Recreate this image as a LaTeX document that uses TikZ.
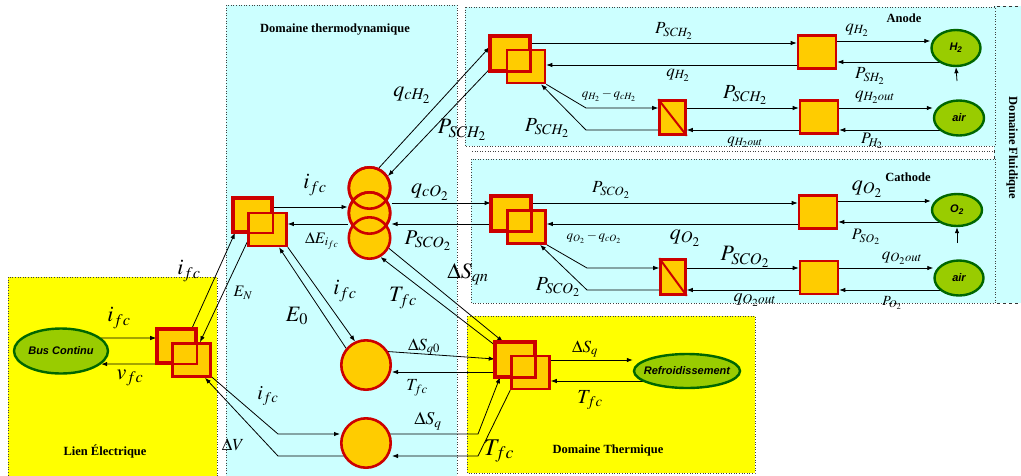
\documentclass[tikz,border=0pt]{standalone}
\usepackage{mathptmx}
\usepackage{fontspec}
\setmainfont{Liberation Serif}
\newfontfamily\elfont{Liberation Sans}
\usetikzlibrary{arrows.meta,shapes.geometric}
\definecolor{sqfill}{RGB}{255,204,0}
\definecolor{sqred}{RGB}{204,0,0}
\definecolor{elfill}{RGB}{153,204,0}
\definecolor{eldraw}{RGB}{0,102,0}
\definecolor{cyanbg}{RGB}{204,255,255}
\definecolor{yelbg}{RGB}{255,255,0}
\pgfdeclarelayer{regions}
\pgfdeclarelayer{conn}
\pgfsetlayers{regions,conn,main}
\tikzset{
 sq/.style={draw=sqred, fill=sqfill, line width=2.6pt, minimum width=38pt, minimum height=33pt, inner sep=0pt},
 sqline/.style={draw=sqred, line width=2.6pt},
 stk/.style={circle, draw=sqred, fill=sqfill, line width=2.6pt, minimum size=41.4pt, inner sep=0pt},
 el/.style={ellipse, draw=eldraw, fill=elfill, line width=2.4pt, inner sep=0pt},
 eltxt/.style={font=\elfont\bfseries\itshape\fontsize{11}{11}\selectfont, inner sep=0pt},
 arr/.style={-{Latex[length=6pt,width=4.5pt]}, line width=0.8pt},
 ln/.style={line width=0.8pt},
 reg/.style={dotted, draw=black!75, line width=0.6pt},
 ttl/.style={font=\bfseries\fontsize{12.5}{12.5}\selectfont, inner sep=0pt},
 lb/.style={inner sep=0pt, font=\fontsize{#1}{#1}\selectfont},
}
\begin{document}
\begin{tikzpicture}[x=1pt,y=-1pt]
\useasboundingbox (0,0) rectangle (1021,475);
% ---------- regions ----------
\begin{pgfonlayer}{regions}
\draw[reg, fill=yelbg] (8,277) rectangle (217,480);
\draw[reg, fill=cyanbg] (226,5) rectangle (457,480);
\draw[dashed, draw=black!80, line width=0.7pt, fill=cyanbg] (994,6) rectangle (1030,303);
\draw[reg, fill=cyanbg] (465,7) rectangle (995,146);
\draw[reg] (472,151) -- (994,151);
\draw[reg, fill=cyanbg] (471,159) rectangle (995,303);
\draw[reg, fill=yelbg] (467,316) rectangle (755,473);
\end{pgfonlayer}
% ---------- Lien electrique ----------
\node[el, minimum width=94pt, minimum height=45pt] (bus) at (61,351) {};
\node[eltxt] (busT) at (61,351) {Bus Continu};
\node[sq] (lienA) at (176.5,346) {};
\node[sq] (lienB) at (191.5,360) {};
\draw[sqline] (lienA.north west) rectangle (lienA.south east);
% ---------- Thermodynamique ----------
\node[sq] (thA) at (252.5,215) {};
\node[sq] (thB) at (267.5,229.5) {};
\draw[sqline] (thA.north west) rectangle (thA.south east);
\node[stk] (st1) at (369.5,188) {};
\node[stk] (st2) at (369.5,213) {};
\node[stk] (st3) at (369.5,238) {};
\draw[sqline] (st1.center) circle[radius=20.7pt];
\draw[sqline] (st2.center) circle[radius=20.7pt];
\node[stk, minimum size=49.4pt] (e0) at (366,365) {};
\node[stk, minimum size=49.4pt] (e1) at (366,443) {};
% ---------- Thermique ----------
\node[sq] (thmA) at (515,359.5) {};
\node[sq] (thmB) at (530.5,372.5) {};
\draw[sqline] (thmA.north west) rectangle (thmA.south east);
\node[el, minimum width=106pt, minimum height=34pt] (ref) at (687,371) {};
\node[eltxt] (refT) at (687,371) {Refroidissement};
% ---------- Anode ----------
\node[sq] (anA) at (510,53.5) {};
\node[sq] (anB) at (526,66.5) {};
\draw[sqline] (anA.north west) rectangle (anA.south east);
\node[sq] (a1) at (817,52) {};
\node[sq] (a2) at (819,117) {};
\node[sq, minimum width=26pt, minimum height=34pt] (dA) at (672.5,117.5) {};
\draw[sqline, line width=2pt] (dA.north west) -- (dA.south east);
\node[el, eltxt, minimum width=49pt, minimum height=36pt] (h2) at (956,48) {H\textsubscript{2}};
\node[el, eltxt, minimum width=50pt, minimum height=35pt] (airA) at (959,118) {air};
% ---------- Cathode ----------
\node[sq] (caA) at (511,213.5) {};
\node[sq] (caB) at (526.5,227) {};
\draw[sqline] (caA.north west) rectangle (caA.south east);
\node[sq] (cs1) at (818,212) {};
\node[sq] (cs2) at (819,277.5) {};
\node[sq, minimum width=25pt, minimum height=35pt] (dC) at (673,277) {};
\draw[sqline, line width=2pt] (dC.north west) -- (dC.south east);
\node[el, eltxt, minimum width=50pt, minimum height=32pt] (o2) at (957,210) {O\textsubscript{2}};
\node[el, eltxt, minimum width=49pt, minimum height=35pt] (airC) at (959,278) {air};
% ---------- bend points ----------
\coordinate (bL1) at (278,434);
\coordinate (bL2) at (278,456);
\coordinate (bR1) at (478,434);
\coordinate (bR2) at (478,456);
\coordinate (kA1) at (586,108);
\coordinate (kA2) at (586,130);
\coordinate (kC1) at (587,268);
\coordinate (kC2) at (587,290);
\coordinate (upA) at (957,81);
\coordinate (upC) at (957,243);
% ---------- connectors ----------
\begin{pgfonlayer}{conn}
\draw[arr] (bus.18) -- (lienA.west |- 0,338);
\draw[arr] (lienA.west |- 0,364) -- (bus.-18);
\draw[arr] (lienA.north -| 192,0) -- (thA.south -| 235,0);
\draw[arr] (thB.west |- 0,242) -- (lienB.north -| 200,0);
\draw[arr] (thA.east |- 0,207) -- (st2.west |- 0,207);
\draw[arr] (st2.west |- 0,224) -- (thB.east |- 0,224);
\draw[arr] (st2.east |- 0,203) -- (caA.west |- 0,203);
\draw[arr] (caA.west |- 0,224) -- (st2.east |- 0,224);
\draw[arr] (st1.65) -- (anA.west |- 0,47);
\draw[arr] (anA.west |- 0,69) -- (st1.33);
\draw[arr] (st3.-28) -- (thmA.north -| 503,0);
\draw[arr] (thmA.west |- 0,345) -- (st3.-60);
\draw[arr] (thB.south east) -- (e0.115);
\draw[arr] (e0.140) -- (thB.south -| 279,0);
\draw[arr] (e0.center |- 0,350) -- (thmA.west |- 0,359);
\draw[arr] (thmA.west |- 0,372) -- (e0.east |- 0,372);
\draw[arr] (lienB.east |- 0,377) -- (bL1) -- (e1.west |- 0,434);
\draw[arr] (e1.center |- 0,456) -- (bL2) -- (lienB.south -| 205,0);
\draw[arr] (e1.center |- 0,434) -- (bR1) -- (thmA.south -| 500,0);
\draw[arr] (thmB.south west) -- (bR2) -- (e1.east |- 0,456);
\draw[arr] (thmB.east |- 0,360) -- (ref.west |- 0,360);
\draw[arr] (ref.center |- 0,381) -- (thmB.east |- 0,381);
% anode
\draw[arr] (anA.east |- 0,43) -- (a1.west |- 0,43);
\draw[arr] (a1.west |- 0,65) -- (anB.east |- 0,65);
\draw[arr] (a1.east |- 0,41) -- (h2.west |- 0,41);
\draw[arr] (h2.center |- 0,62) -- (a1.east |- 0,62);
\draw[arr] (upA) -- (h2.south);
\draw[arr] (anB.south east) -- (kA1) -- (dA.west |- 0,108);
\draw[arr] (dA.west |- 0,130) -- (kA2) -- (anB.south -| 541,0);
\draw[arr] (dA.east |- 0,108) -- (a2.west |- 0,108);
\draw[arr] (a2.west |- 0,130) -- (dA.east |- 0,130);
\draw[arr] (a2.east |- 0,108) -- (airA.west |- 0,108);
\draw[arr] (airA.center |- 0,130) -- (a2.east |- 0,130);
% cathode
\draw[arr] (caA.east |- 0,203) -- (cs1.west |- 0,203);
\draw[arr] (cs1.west |- 0,224) -- (caB.east |- 0,224);
\draw[arr] (cs1.east |- 0,201) -- (o2.west |- 0,201);
\draw[arr] (o2.center |- 0,222) -- (cs1.east |- 0,222);
\draw[arr] (upC) -- (o2.south);
\draw[arr] (caB.south east) -- (kC1) -- (dC.west |- 0,268);
\draw[arr] (dC.west |- 0,290) -- (kC2) -- (caB.south -| 540,0);
\draw[arr] (dC.east |- 0,268) -- (cs2.west |- 0,268);
\draw[arr] (cs2.west |- 0,290) -- (dC.east |- 0,290);
\draw[arr] (cs2.east |- 0,268) -- (airC.west |- 0,268);
\draw[arr] (airC.center |- 0,290) -- (cs2.east |- 0,290);
\end{pgfonlayer}
% ---------- titles ----------
\node[ttl] (tTd) at (335,30) {Domaine thermodynamique};
\node[ttl] (tAn) at (904,18) {Anode};
\node[ttl] (tCa) at (908,177) {Cathode};
\node[ttl, rotate=-90] (tFl) at (1012,148) {Domaine Fluidique};
\node[ttl] (tLe) at (105,451) {Lien Électrique};
\node[ttl] (tTh) at (608,450) {Domaine Thermique};
% ---------- labels ----------
\node[lb=22] (l1) at (119,318) {$i_{fc}$};
\node[lb=22] (l2) at (130,378) {$v_{fc}$};
\node[lb=22] (l3) at (189,271) {$i_{fc}$};
\node[lb=16] (l4) at (243,293) {$E_N$};
\node[lb=17] (l5) at (233,445) {$\Delta V$};
\node[lb=22] (l6) at (412,95) {$q_{cH_2}$};
\node[lb=22] (l7) at (462,130) {$P_{SCH_2}$};
\node[lb=22] (l8) at (315,185) {$i_{fc}$};
\node[lb=22] (l9) at (430,192) {$q_{cO_2}$};
\node[lb=16] (l10) at (322,241) {$\Delta E_{i_{fc}}$};
\node[lb=21] (l11) at (428,241) {$P_{SCO_2}$};
\node[lb=22] (l12) at (468,274) {$\Delta S_{qn}$};
\node[lb=22] (l13) at (403,298) {$T_{fc}$};
\node[lb=22] (l14) at (345,291) {$i_{fc}$};
\node[lb=22] (l15) at (297,316) {$E_0$};
\node[lb=17] (l16) at (424,347) {$\Delta S_{q0}$};
\node[lb=17] (l17) at (417,388) {$T_{fc}$};
\node[lb=20] (l18) at (268,396) {$i_{fc}$};
\node[lb=18] (l19) at (428,421) {$\Delta S_q$};
\node[lb=17] (l20) at (585,349) {$\Delta S_q$};
\node[lb=20] (l21) at (590,400) {$T_{fc}$};
\node[lb=24] (l22) at (499,451) {$T_{fc}$};
\node[lb=17] (l23) at (674,31) {$P_{SCH_2}$};
\node[lb=17] (l24) at (678,75) {$q_{H_2}$};
\node[lb=13] (l25) at (609,96) {$q_{H_2}-q_{cH_2}$};
\node[lb=20] (l26) at (547,128) {$P_{SCH_2}$};
\node[lb=20] (l27) at (745,95) {$P_{SCH_2}$};
\node[lb=15] (l28) at (745,142) {$q_{H_2out}$};
\node[lb=17] (l29) at (857,30) {$q_{H_2}$};
\node[lb=17] (l30) at (870,76) {$P_{SH_2}$};
\node[lb=17] (l31) at (875,97) {$q_{H_2out}$};
\node[lb=16] (l32) at (872,141) {$P_{H_2}$};
\node[lb=17] (l33) at (611,190) {$P_{SCO_2}$};
\node[lb=13] (l34) at (594,238) {$q_{O_2}-q_{cO_2}$};
\node[lb=22] (l35) at (685,238) {$q_{O_2}$};
\node[lb=22] (l36) at (745,257) {$P_{SCO_2}$};
\node[lb=20] (l37) at (558,287) {$P_{SCO_2}$};
\node[lb=18] (l38) at (755,300) {$q_{O_2out}$};
\node[lb=22] (l39) at (867,189) {$q_{O_2}$};
\node[lb=16] (l40) at (866,237) {$P_{SO_2}$};
\node[lb=17] (l41) at (902,258) {$q_{O_2out}$};
\node[lb=14] (l42) at (892,303) {$P_{O_2}$};
\end{tikzpicture}
\end{document}
